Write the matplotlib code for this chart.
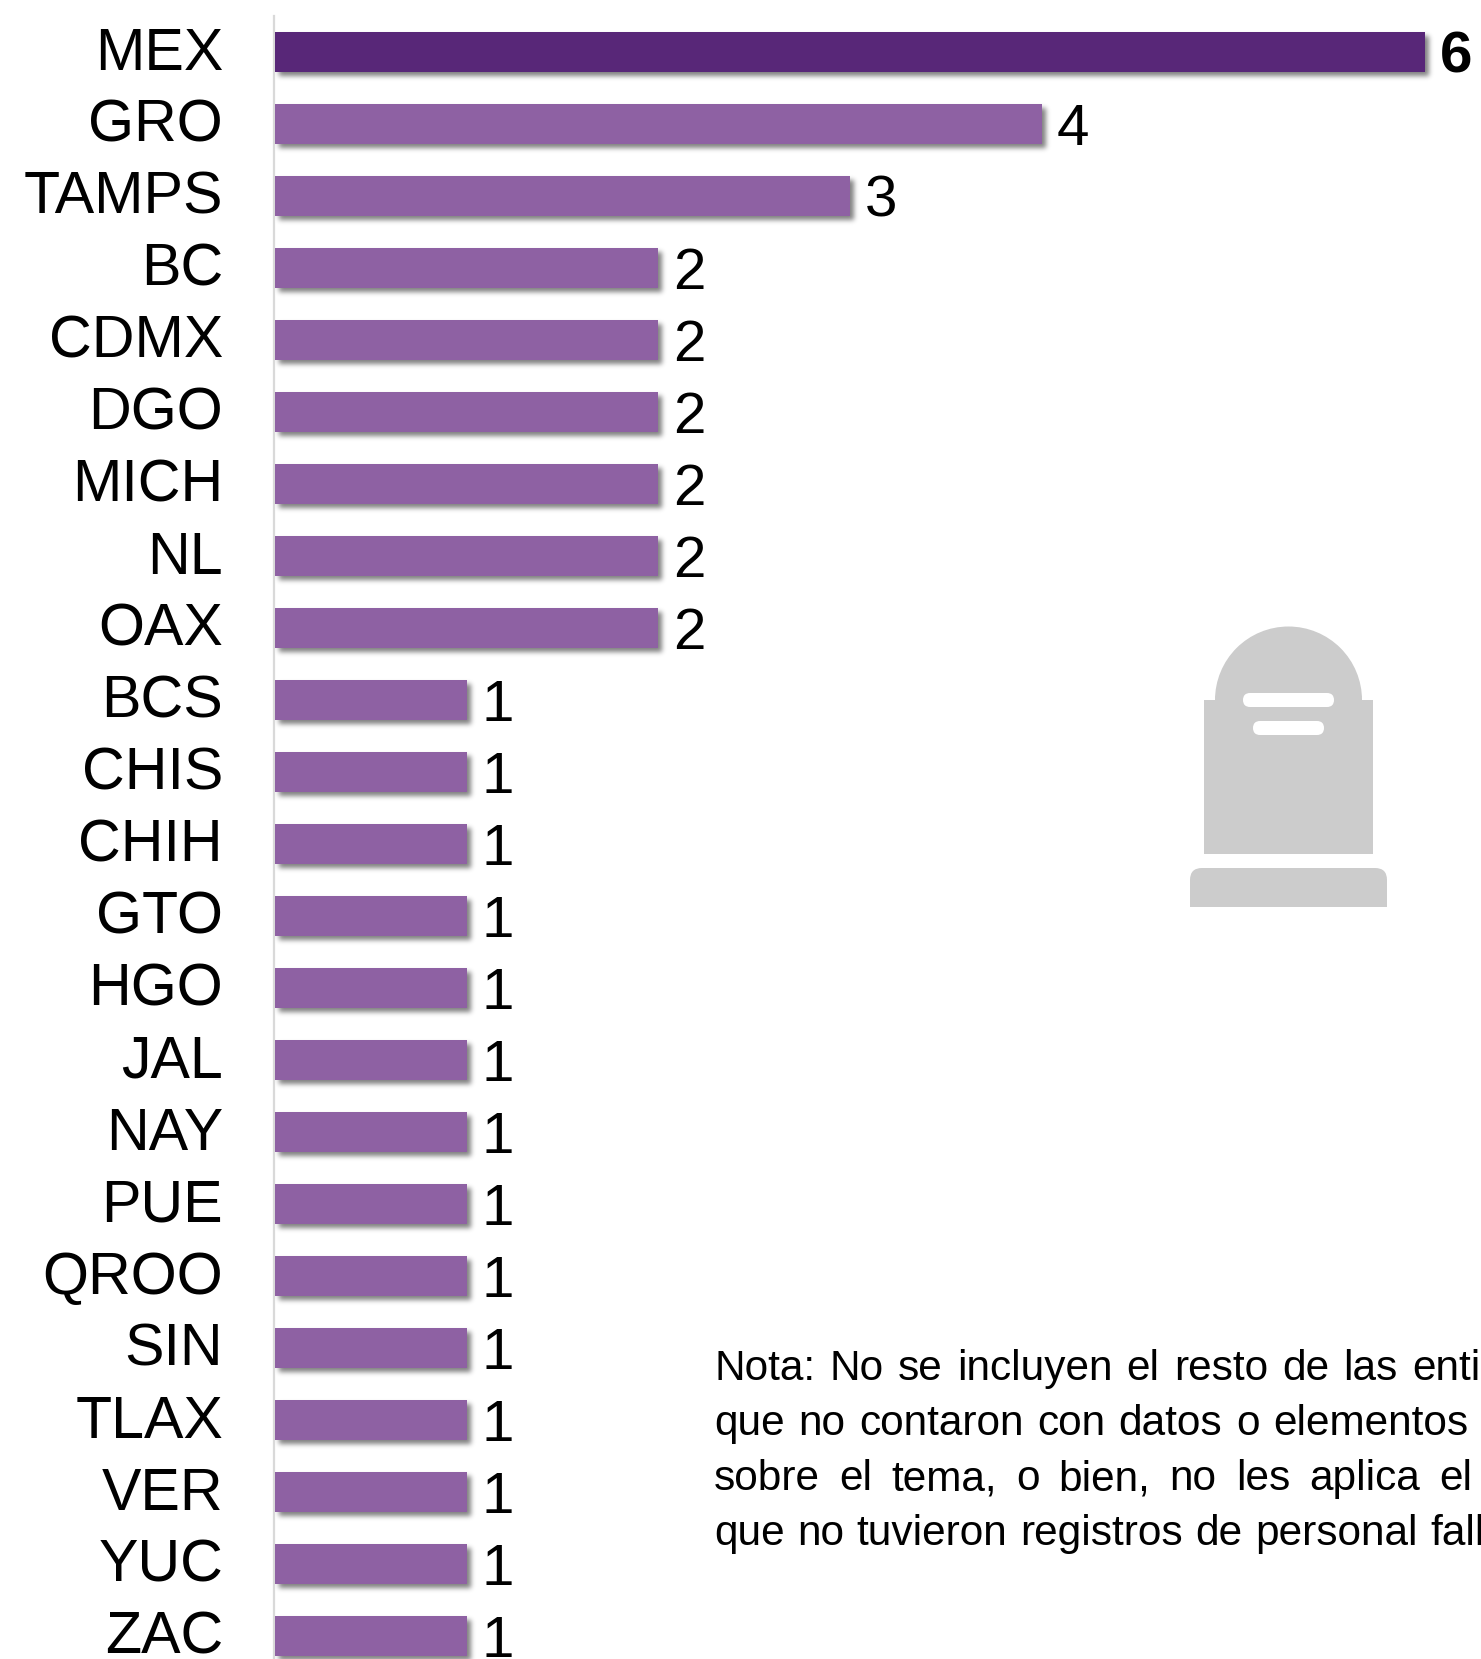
"""Bar chart of fallen personnel by state, with note and tombstone icon."""

import matplotlib
matplotlib.use("Agg")
import numpy as np
import matplotlib.pyplot as plt
from matplotlib.patches import FancyBboxPatch, PathPatch, Rectangle, Wedge
from matplotlib.path import Path

states = ["MEX", "GRO", "TAMPS", "BC", "CDMX", "DGO", "MICH", "NL", "OAX",
          "BCS", "CHIS", "CHIH", "GTO", "HGO", "JAL", "NAY", "PUE", "QROO",
          "SIN", "TLAX", "VER", "YUC", "ZAC"]
values = [6, 4, 3, 2, 2, 2, 2, 2, 2, 1, 1, 1, 1, 1, 1, 1, 1, 1, 1, 1, 1, 1, 1]

note_lines = [
    ("Nota: No se incluyen el resto de las entidades", 1412),
    ("que no contaron con datos o elementos", 1273),
    ("sobre el tema, o bien, no les aplica el", 1439),
    ("que no tuvieron registros de personal fallecido", 1430),
]

W, H = 1481, 1659
DARK = "#582778"
LIGHT = "#8E61A3"
GREY = "#CCCCCC"

plt.rcParams["font.family"] = ["Liberation Sans", "DejaVu Sans"]


def soft_shadow(img, dpi):
    """Agg filter: blurred black copy of a bar, moved right and down."""
    pad, shift = 12, 4
    kernel = np.exp(-0.5 * (np.arange(-7, 8) / 2.5) ** 2)
    kernel /= kernel.sum()
    out = np.pad(img, ((pad, pad), (pad, pad), (0, 0)))
    alpha = out[:, :, 3]
    for axis in (0, 1):
        alpha = np.apply_along_axis(lambda m: np.convolve(m, kernel, mode="same"), axis, alpha)
    out[:, :, :3] = 0
    out[:, :, 3] = alpha * 0.5
    out = np.roll(np.roll(out, shift, axis=0), shift, axis=1)
    return out, -pad, -pad


fig = plt.figure(figsize=(W / 100, H / 100), dpi=100, facecolor="white")

# main axes, in pixels: x=0 at 275, one unit 191.67 px; bands of 72 px from y=16
left, top, unit, pitch = 275, 16, 1150 / 6, 72
ax = fig.add_axes([left / W, 0, (W - left) / W, (H - top) / H])
ax.set_xlim(0, (W - left) / unit)
ax.set_ylim(-0.5 + (H - top) / pitch, -0.5)

y_pos = list(range(len(values)))
for b in ax.barh(y_pos, values, height=40 / 72, color="black", zorder=2):
    b.set_agg_filter(soft_shadow)

colors = [DARK] + [LIGHT] * (len(values) - 1)
ax.barh(y_pos, values, height=40 / 72, color=colors, zorder=3)

for i, v in enumerate(values):
    ax.annotate(str(v), (v, i), xytext=(11, -4), textcoords="offset points",
                ha="left", va="center", fontsize=42, color="black",
                fontweight="bold" if i == 0 else "normal", annotation_clip=False)

# state names sit a little above the bar centres, so they are placed by hand
for i, name in enumerate(states):
    ax.annotate(name, (0, i), xytext=(-37.4, -1.5), textcoords="offset points",
                ha="right", va="center", fontsize=42.6, color="black", annotation_clip=False)

ax.set_xticks([])
ax.set_yticks([])
for s in ("top", "right", "bottom"):
    ax.spines[s].set_visible(False)
ax.spines["left"].set_color("#D9D9D9")
ax.spines["left"].set_linewidth(1.6)
ax.spines["left"].set_position(("outward", 1))

# overlay in image pixels for the note and the icon
ov = fig.add_axes([0, 0, 1, 1], facecolor="none")
ov.set_xlim(0, W)
ov.set_ylim(H, 0)
ov.axis("off")

fig.canvas.draw()
renderer = fig.canvas.get_renderer()
x0 = 714
for n, (line, last_x) in enumerate(note_lines):
    words = line.split()
    texts = [ov.text(x0, 1380 + 55 * n, w, fontsize=30.5, ha="left", va="baseline",
                     color="black", clip_on=False) for w in words]
    widths = [t.get_window_extent(renderer).width for t in texts]
    gap = (last_x - x0 - sum(widths[:-1])) / (len(words) - 1)
    x = x0
    for t, w in zip(texts, widths):
        t.set_x(x)
        x += w + gap

# tombstone icon
ov.add_patch(Wedge((1288.5, 700), 73.5, 180, 360, fc=GREY, ec="none"))
ov.add_patch(Rectangle((1204, 700), 169, 154, fc=GREY, ec="none"))
for sx, sy, sw in [(1243, 693, 91), (1253, 721, 71)]:
    ov.add_patch(FancyBboxPatch((sx + 7, sy + 7), sw - 14, 0, boxstyle="round,pad=7,rounding_size=7",
                                fc="white", ec="none"))
base = Path([(1190, 907), (1190, 880), (1190, 868), (1202, 868), (1375, 868),
             (1387, 868), (1387, 880), (1387, 907), (1190, 907)],
            [Path.MOVETO, Path.LINETO, Path.CURVE3, Path.CURVE3, Path.LINETO,
             Path.CURVE3, Path.CURVE3, Path.LINETO, Path.CLOSEPOLY])
ov.add_patch(PathPatch(base, fc=GREY, ec="none"))

fig.savefig("out.png", dpi=100)
